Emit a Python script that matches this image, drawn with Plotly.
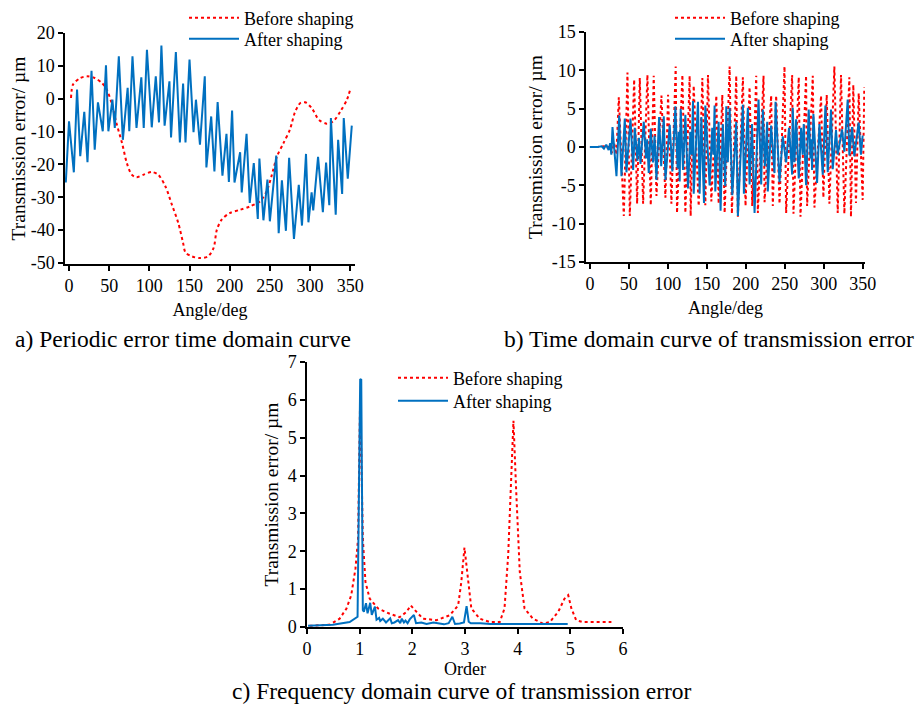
import plotly.graph_objects as go

# ---------------- data: panel a (periodic error, time domain) ----------------
a_before_x = [2.5, 5, 14, 23, 32, 41, 47, 53, 59, 66, 72, 78, 84, 93, 103, 111, 120, 128, 136, 142,
              145, 153, 163, 173, 180, 184, 190, 200, 213, 225, 238, 246, 252, 259, 267, 275, 281, 288, 294, 302,
              311, 321, 329, 338, 346, 350]
a_before_y = [0.2, 4.3, 6.3, 6.8, 6.3, 4.8, 2.8, -1.3, -7.4, -13.5, -19.6, -23.1, -23.9, -23.1, -22.3, -23.1, -26.7, -32.2, -37.8, -43.9,
              -46.8, -48, -48.5, -48, -45.4, -39.9, -36.8, -34.8, -33.8, -32.8, -31.2, -28.2, -23.6, -17.5, -13.5, -9.4, -4.3, -1.3, -1.1, -2.8,
              -6.4, -7.6, -6.9, -3.8, -0.3, 2.8]
a_after_x = [-4, 0, 6, 10, 14, 19, 23, 28, 32, 36, 42, 46, 49, 54, 57, 62, 67, 73, 75, 79,
             84, 90, 93, 97, 103, 108, 112, 115, 119, 125, 127, 133, 138, 142, 145, 150, 155, 158, 163, 169,
             171, 177, 181, 185, 191, 196, 199, 203, 206, 213, 215, 221, 225, 230, 235, 237, 242, 247, 250, 258,
             261, 265, 270, 274, 280, 286, 290, 295, 298, 302, 304, 310, 316, 320, 324, 326, 332, 335, 340, 342,
             347, 352]
a_after_y = [-25.5, -6.9, -22.4, 2.8, -17.5, -4, -19.3, 8.5, -15.5, -1.1, -9.9, 10.2, -9.9, -0.3, -8.9, 12.9, -12.5, 3.3, -9.9, 12.9,
             -8.9, 6.5, -8.9, 14.9, -8.7, 6.8, -7.2, 16.2, -8.2, 5.3, -11.8, 14.2, -13.3, 4.6, -13.3, 11.9, -10.2, -0.3, -14, 6.8,
             -20.9, -5.4, -22.1, -1, -23.4, -10.7, -25.3, -3.6, -25.5, -16.3, -28.5, -10.7, -31.7, -19.6, -36.6, -18.2, -37, -24.6, -37.3, -17.3,
             -40.9, -24.8, -40.2, -18, -42.7, -26.2, -38.6, -16.8, -37.6, -28.5, -34, -17.7, -34.5, -19.4, -32.4, -5.9, -35.3, -12.5, -29, -5.9,
             -24.3, -8.2]

# ---------------- data: panel b (transmission error, time domain) ----------------
b_before_x = [0, 10, 18, 22, 25, 28, 31, 34,
              37.1, 43.5, 48.2, 51.2, 56.8, 60.6, 64.0, 68.3, 73.8, 78.1,
              81.9, 85.4, 91.8, 96.9, 100.3, 104.6, 110.1, 111.8, 118.7, 122.5,
              128.0, 129.3, 133.2, 139.6, 144.3, 148.1, 151.5, 155.8, 162.2, 165.2,
              169.9, 172.9, 179.3, 182.2, 187.8, 189.9, 196.3, 199.7, 204.9, 208.3,
              213.4, 215.5, 222.8, 224.1, 232.6, 234.7, 239.0, 243.3, 249.7, 251.8,
              259.5, 261.2, 268.0, 270.2, 277.4, 278.7, 286.0, 288.1, 296.6, 299.6,
              303.9, 307.3, 313.7, 318.0, 322.2, 326.5, 332.9, 335.0, 338.0, 341.4,
              344.9, 350.0, 352.1]
b_before_y = [0, 0, 0.1, -0.2, 0.3, -0.8, 0.5, -1.0,
              6.5, -9.0, 9.7, -9.0, 8.8, -7.4, 9.0, -7.4, 9.4, -7.6,
              9.3, -6.4, 6.7, -6.6, 6.8, -7.4, 10.5, -8.6, 9.4, -8.6,
              9.3, -9.0, 8.0, -7.7, 9.0, -7.6, 9.4, -7.1, 6.7, -7.4,
              6.8, -8.6, 10.5, -8.7, 9.3, -9.1, 9.1, -7.7, 7.8, -7.7,
              9.3, -8.6, 9.3, -7.2, 6.7, -7.7, 6.7, -7.4, 10.5, -8.6,
              9.4, -8.7, 9.1, -9.1, 9.3, -7.7, 9.3, -7.9, 6.7, -6.6,
              6.8, -7.4, 10.5, -8.6, 9.4, -8.7, 9.1, -9.1, 8.1, -7.3,
              7.0, -6.9, 7.8]
b_after_x = [0, 10, 15, 18, 21, 24, 26, 27.5,
             29.0, 34.1, 37.6, 40.5, 44.8, 46.9, 52.1, 55.5, 57.6, 61.0,
             63.0, 64.9, 69.1, 72.0, 73.5, 75.5, 78.1, 81.0, 83.0, 85.4,
             88.8, 91.5, 94.8, 96.9, 102.4, 105.8, 109.7, 112.5, 114.0, 115.2,
             116.5, 119.5, 122.5, 125.9, 129.0, 130.5, 132.3, 133.2, 138.7, 140.8,
             143.0, 146.4, 148.1, 153.6, 157.0, 158.5, 160.0, 160.9, 165.2, 167.7,
             170.5, 173.7, 175.0, 177.0, 179.3, 182.7, 187.8, 189.9, 196.3, 197.6,
             202.7, 204.9, 208.0, 211.3, 216.4, 219.8, 221.9, 224.5, 227.5, 228.3,
             232.5, 236.9, 238.2, 243.3, 247.5, 251.8, 255.5, 259.5, 260.3, 262.5,
             264.6, 268.0, 271.0, 273.0, 274.4, 277.4, 280.8, 283.0, 284.0, 285.1,
             286.8, 291.5, 294.5, 298.8, 302.2, 305.2, 309.4, 311.6, 315.8, 318.0,
             323.5, 326.5, 330.8, 332.9, 336.3, 339.3, 344.9, 347.8, 350.0]
b_after_y = [0, 0, 0.1, -0.2, 0.3, -0.4, 0.5, -1.0,
             2.6, -3.8, 4.1, -3.8, 3.7, -3.3, 3.7, -3.0, 2.5, -1.8,
             1.2, -2.2, 3.3, -1.5, 1.0, -3.4, 2.4, -2.0, 1.5, -4.3,
             3.9, -2.5, 4.0, -4.3, 2.9, -3.2, 5.3, -2.8, 2.0, -4.5,
             5.0, -3.0, 4.2, -5.4, 2.0, -1.0, 6.0, -6.1, 5.9, -6.1,
             3.9, -7.3, 5.4, -5.0, 2.5, -1.0, 5.4, -5.8, 3.3, -8.3,
             3.0, -5.1, 5.3, -2.0, 5.1, -6.3, 3.3, -9.0, 5.5, -6.1,
             5.1, -4.9, 3.0, -8.6, 6.2, -4.9, 4.9, -2.5, 3.3, -5.8,
             2.8, -3.4, 5.9, -4.6, 1.4, -2.0, 2.5, -3.6, 5.1, -2.0,
             3.6, -4.1, 2.5, -1.0, 3.0, -5.0, 4.9, -1.5, 1.0, -3.0,
             4.3, -4.7, 3.0, -3.6, 5.4, -3.3, 4.9, -2.9, 2.2, -1.0,
             2.3, -0.6, 6.2, -1.1, 2.6, -1.2, 3.2, -1.0, 1.5]

# ---------------- data: panel c (frequency domain) ----------------
c_before_x = [0.05, 0.43, 0.62, 0.75, 0.84, 0.92, 0.97, 1.01, 1.06, 1.11,
              1.19, 1.35, 1.57, 1.76, 1.89, 1.97, 2.08, 2.20, 2.46, 2.71,
              2.87, 2.93, 2.99, 3.06, 3.12, 3.28, 3.47, 3.66, 3.75, 3.82,
              3.88, 3.92, 3.97, 4.04, 4.13, 4.29, 4.48, 4.61, 4.77, 4.89,
              4.96, 5.02, 5.11, 5.24, 5.78]
c_before_y = [0.03, 0.06, 0.22, 0.49, 0.84, 1.54, 2.34, 6.13, 2.34, 1.19,
              0.75, 0.49, 0.35, 0.26, 0.40, 0.57, 0.40, 0.22, 0.18, 0.31,
              0.57, 1.19, 2.1, 1.19, 0.49, 0.22, 0.13, 0.13, 0.49, 1.9,
              4.1, 5.45, 3.66, 1.46, 0.49, 0.22, 0.09, 0.13, 0.4, 0.75,
              0.84, 0.49, 0.18, 0.13, 0.13]
c_after_x = [0.02, 0.49, 0.81, 0.94, 0.96, 1.01, 1.03, 1.06, 1.08, 1.12,
             1.15, 1.2, 1.23, 1.29, 1.32, 1.37, 1.39, 1.44, 1.5, 1.58,
             1.61, 1.66, 1.73, 1.77, 1.8, 1.84, 1.87, 1.91, 1.95, 2.03,
             2.07, 2.17, 2.27, 2.4, 2.5, 2.6, 2.69, 2.76, 2.81, 2.9,
             2.98, 3.03, 3.07, 3.11, 3.29, 3.48, 3.8, 4.3, 4.95]
c_after_y = [0.03, 0.06, 0.13, 0.26, 0.27, 6.55, 6.53, 0.45, 0.4, 0.63,
             0.36, 0.64, 0.32, 0.54, 0.19, 0.24, 0.16, 0.22, 0.12, 0.23,
             0.1, 0.12, 0.18, 0.1, 0.22, 0.12, 0.17, 0.1, 0.2, 0.32,
             0.1, 0.12, 0.08, 0.12, 0.1, 0.07, 0.1, 0.27, 0.08, 0.09,
             0.12, 0.55, 0.14, 0.1, 0.1, 0.08, 0.08, 0.08, 0.08]

# ---------------- tick labels ----------------
angle_ticks = [0, 50, 100, 150, 200, 250, 300, 350]
a_yticks = [-50, -40, -30, -20, -10, 0, 10, 20]
a_yticktext = ["-50", "-40", "-30", "-20", "-10", "0", "10", "20"]
b_yticks = [-15, -10, -5, 0, 5, 10, 15]
b_yticktext = ["-15", "-10", "-5", "0", "5", "10", "15"]
order_ticks = [0, 1, 2, 3, 4, 5, 6]
c_yticks = [0, 1, 2, 3, 4, 5, 6, 7]

series_names = ["Before shaping", "After shaping"]
captions = ["a) Periodic error time domain curve",
            "b) Time domain curve of transmission error",
            "c) Frequency domain curve of transmission error"]
y_title = "Transmission error/ µm"

RED = "#FF0000"
BLUE = "#0070C0"
FONT = "Liberation Serif"
W, H = 924, 711
OFF = 8  # page offset of the plot inside the browser window

fig = go.Figure()

def px_x(p):
    return (p - OFF) / W

def px_y(p):
    return 1 - (p - OFF) / H

def add_pair(bx, by, ax_, ay_, xa, ya, leg_b, leg_a, red_shape="linear"):
    fig.add_trace(go.Scatter(x=bx, y=by, mode="lines", name=series_names[0],
                             line=dict(color=RED, width=2, dash="dot", shape=red_shape, smoothing=0.8),
                             xaxis=xa, yaxis=ya, legend=leg_b))
    fig.add_trace(go.Scatter(x=ax_, y=ay_, mode="lines", name=series_names[1],
                             line=dict(color=BLUE, width=2),
                             xaxis=xa, yaxis=ya, legend=leg_a))

add_pair(a_before_x, a_before_y, a_after_x, a_after_y, "x", "y", "legend", "legend2", red_shape="spline")
add_pair(b_before_x, b_before_y, b_after_x, b_after_y, "x2", "y2", "legend3", "legend4")
add_pair(c_before_x, c_before_y, c_after_x, c_after_y, "x3", "y3", "legend5", "legend6")

axis_common = dict(showline=True, linecolor="black", linewidth=1.5, ticks="outside",
                   ticklen=5, tickwidth=1.5, tickcolor="black", showgrid=False, zeroline=False,
                   automargin=False,
                   tickfont=dict(family=FONT, size=18, color="black"))

legend_common = dict(font=dict(family=FONT, size=18, color="black"), bgcolor="rgba(0,0,0,0)",
                     tracegroupgap=0, itemwidth=50, xanchor="left", yanchor="middle")

xtfont = dict(family=FONT, size=18, color="black")
ytfont = dict(family=FONT, size=19.5, color="black")

fig.update_layout(
    width=W, height=H, margin=dict(l=0, r=0, t=0, b=0, autoexpand=False),
    paper_bgcolor="white", plot_bgcolor="white",
    font=dict(family=FONT, size=18, color="black"),
    xaxis=dict(domain=[px_x(65), px_x(355)], range=[-5, 356], tickvals=angle_ticks, anchor="y",
               title=dict(text="Angle/deg", font=xtfont, standoff=8), **axis_common),
    yaxis=dict(domain=[px_y(264), px_y(33)], range=[-50.3, 20], tickvals=a_yticks, ticktext=a_yticktext,
               anchor="x", title=dict(text=y_title, font=ytfont, standoff=4), **axis_common),
    xaxis2=dict(domain=[px_x(586), px_x(865)], range=[-5, 353], tickvals=angle_ticks, anchor="y2",
                title=dict(text="Angle/deg", font=xtfont, standoff=8), **axis_common),
    yaxis2=dict(domain=[px_y(262), px_y(32)], range=[-15, 15], tickvals=b_yticks, ticktext=b_yticktext,
                anchor="x2", title=dict(text=y_title, font=ytfont, standoff=4), **axis_common),
    xaxis3=dict(domain=[px_x(307), px_x(623)], range=[0, 6], tickvals=order_ticks, anchor="y3",
                title=dict(text="Order", font=xtfont, standoff=0), **axis_common),
    yaxis3=dict(domain=[px_y(627), px_y(362)], range=[0, 7], tickvals=c_yticks, anchor="x3",
                title=dict(text=y_title, font=ytfont, standoff=4), **axis_common),
    legend=dict(x=px_x(184), y=px_y(18), **legend_common),
    legend2=dict(x=px_x(184), y=px_y(39), **legend_common),
    legend3=dict(x=px_x(670), y=px_y(18), **legend_common),
    legend4=dict(x=px_x(670), y=px_y(39), **legend_common),
    legend5=dict(x=px_x(393), y=px_y(378), **legend_common),
    legend6=dict(x=px_x(393), y=px_y(401), **legend_common),
    showlegend=True,
)

cap_pos = [(183, 339), (709, 339), (462, 691)]
for text, (cx, cy) in zip(captions, cap_pos):
    fig.add_annotation(text=text, x=px_x(cx), y=px_y(cy), xref="paper", yref="paper",
                       showarrow=False, xanchor="center", yanchor="middle",
                       font=dict(family=FONT, size=23.5, color="black"))

fig.write_html("out.html")
